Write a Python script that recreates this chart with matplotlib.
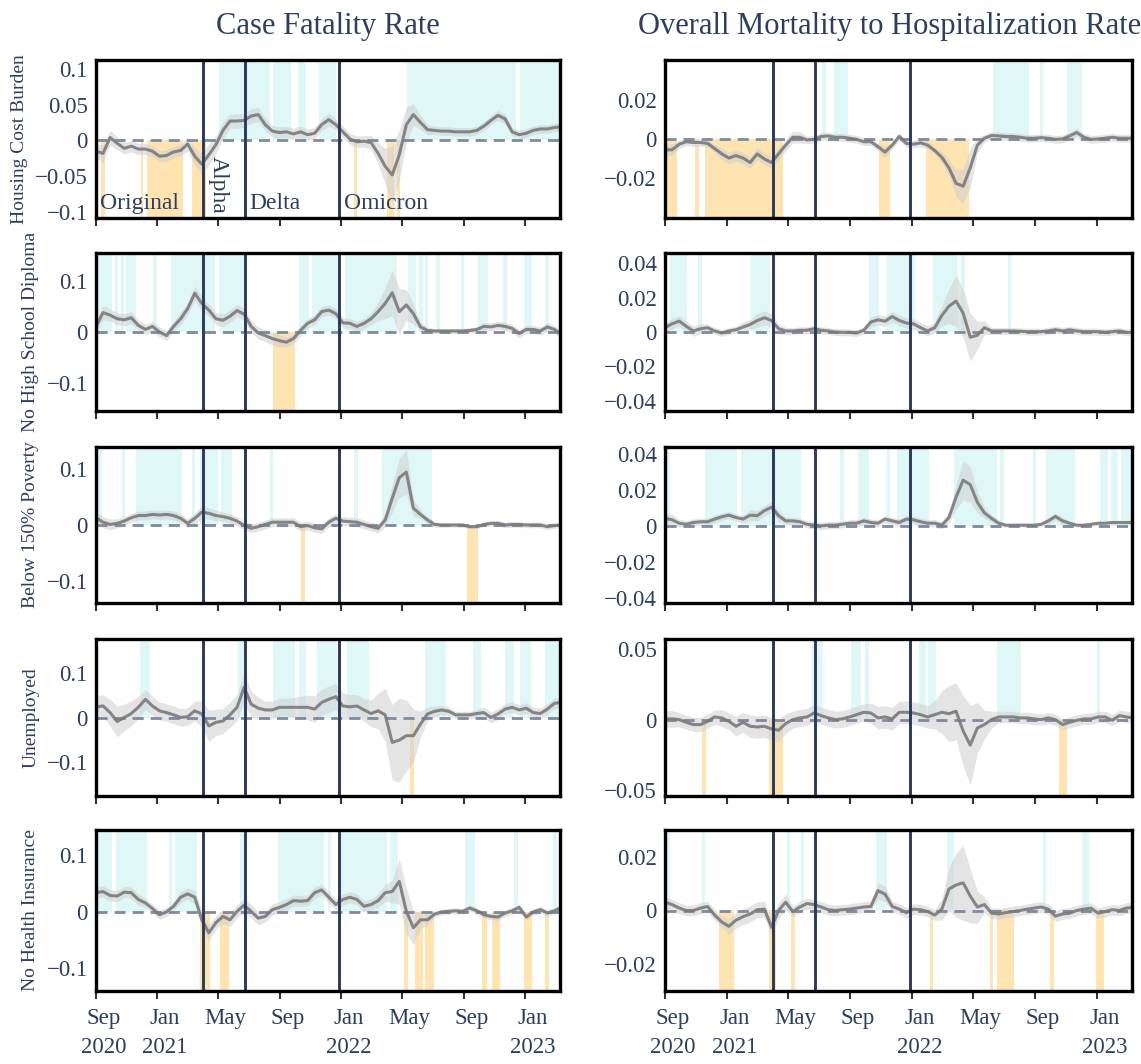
import numpy as np
import pandas as pd
import matplotlib
matplotlib.use("Agg")
import matplotlib.pyplot as plt
import matplotlib.dates as mdates
from matplotlib.ticker import FuncFormatter
from matplotlib.transforms import ScaledTranslation, blended_transform_factory

# biweekly estimates, Sep 2020 - Mar 2023
weeks = pd.date_range("2020-09-01", periods=67, freq="14D")

variant_names = ["Original", "Alpha", "Delta", "Omicron"]
variant_dates = ["2021-04-02", "2021-06-24", "2021-12-28"]

tick_dates = ["2020-09-01", "2021-01-01", "2021-05-01", "2021-09-01",
              "2022-01-01", "2022-05-01", "2022-09-01", "2023-01-01"]
tick_labels = ["Sep\n2020", "Jan\n2021", "May", "Sep", "Jan\n2022", "May", "Sep", "Jan\n2023"]

row_names = ["Housing Cost Burden", "No High School Diploma", "Below 150% Poverty",
             "Unemployed", "No Health Insurance"]
col_titles = ["Case Fatality Rate", "Overall Mortality to Hospitalization Rate"]

# ---- case fatality rate ----
hcb_cfr = [-0.015, -0.018, 0.004, -0.004, -0.011, -0.008, -0.012, -0.012, -0.015, -0.022,
           -0.021, -0.016, -0.014, -0.005, -0.022, -0.033, -0.020, -0.006, 0.014, 0.027,
           0.027, 0.028, 0.034, 0.036, 0.022, 0.013, 0.011, 0.012, 0.009, 0.012,
           0.008, 0.010, 0.022, 0.029, 0.022, 0.012, 0.002, -0.002, -0.001, -0.003,
           -0.018, -0.036, -0.048, -0.020, 0.022, 0.036, 0.025, 0.015, 0.014, 0.013,
           0.013, 0.012, 0.012, 0.012, 0.014, 0.020, 0.028, 0.035, 0.030, 0.012,
           0.008, 0.010, 0.014, 0.016, 0.016, 0.018, 0.019]
hcb_cfr_ci = [0.010, 0.012, 0.010, 0.009, 0.008, 0.008, 0.008, 0.008, 0.008, 0.008,
              0.008, 0.008, 0.008, 0.010, 0.012, 0.015, 0.015, 0.012, 0.012, 0.010,
              0.010, 0.010, 0.010, 0.010, 0.009, 0.008, 0.008, 0.008, 0.008, 0.008,
              0.008, 0.008, 0.008, 0.009, 0.008, 0.008, 0.008, 0.008, 0.008, 0.010,
              0.015, 0.025, 0.040, 0.035, 0.025, 0.015, 0.010, 0.007, 0.006, 0.006,
              0.006, 0.006, 0.006, 0.006, 0.006, 0.006, 0.006, 0.007, 0.007, 0.006,
              0.006, 0.006, 0.006, 0.006, 0.006, 0.006, 0.006]
hcb_cfr_pos = [("2021-05-03", "2021-08-13"), ("2021-08-18", "2021-09-23"), ("2021-10-07", "2021-10-22"),
               ("2021-11-18", "2021-12-22"), ("2022-05-12", "2022-12-14"), ("2022-12-21", "2023-03-12")]
hcb_cfr_neg = [("2020-09-10", "2020-09-18"), ("2020-11-29", "2020-12-04"), ("2020-12-12", "2021-02-20"),
               ("2021-03-10", "2021-04-08"), ("2022-01-26", "2022-02-02"), ("2022-04-01", "2022-04-15"),
               ("2022-04-21", "2022-04-28")]

nhs_cfr = [0.011, 0.038, 0.033, 0.026, 0.024, 0.028, 0.013, 0.005, 0.011, 0.000,
           -0.007, 0.011, 0.026, 0.046, 0.076, 0.056, 0.043, 0.026, 0.023, 0.031,
           0.042, 0.035, 0.011, -0.002, -0.007, -0.013, -0.017, -0.020, -0.013, 0.003,
           0.017, 0.024, 0.040, 0.043, 0.036, 0.018, 0.017, 0.011, 0.017, 0.026,
           0.040, 0.056, 0.077, 0.040, 0.053, 0.036, 0.010, 0.003, 0.002, 0.002,
           0.002, 0.002, 0.002, 0.003, 0.005, 0.011, 0.010, 0.013, 0.011, 0.007,
           -0.003, 0.005, 0.005, 0.002, 0.010, 0.005, -0.005]
nhs_cfr_ci = [0.012, 0.014, 0.012, 0.012, 0.012, 0.012, 0.010, 0.010, 0.010, 0.010,
              0.010, 0.010, 0.012, 0.012, 0.014, 0.014, 0.012, 0.012, 0.012, 0.012,
              0.012, 0.012, 0.012, 0.012, 0.012, 0.012, 0.012, 0.010, 0.010, 0.010,
              0.010, 0.010, 0.010, 0.010, 0.010, 0.010, 0.010, 0.010, 0.010, 0.012,
              0.018, 0.030, 0.045, 0.045, 0.030, 0.020, 0.010, 0.006, 0.005, 0.005,
              0.005, 0.005, 0.005, 0.005, 0.006, 0.008, 0.008, 0.008, 0.008, 0.008,
              0.008, 0.008, 0.008, 0.008, 0.008, 0.008, 0.008]
nhs_cfr_pos = [("2020-08-30", "2020-10-02"), ("2020-10-09", "2020-10-14"), ("2020-10-20", "2020-10-27"),
               ("2020-10-31", "2020-11-20"), ("2020-12-24", "2020-12-31"), ("2021-01-28", "2021-04-01"),
               ("2021-04-04", "2021-04-26"), ("2021-05-03", "2021-06-22"), ("2021-10-08", "2021-10-28"),
               ("2021-11-04", "2022-01-01"), ("2022-01-08", "2022-04-21"), ("2022-05-13", "2022-05-29"),
               ("2022-06-04", "2022-06-12"), ("2022-06-16", "2022-06-21"), ("2022-07-08", "2022-07-15"),
               ("2022-08-27", "2022-09-01"), ("2022-09-29", "2022-10-20"), ("2022-11-18", "2022-11-26"),
               ("2022-12-30", "2023-01-14"), ("2023-02-10", "2023-02-17")]
nhs_cfr_neg = [("2021-08-18", "2021-10-01")]

pov_cfr = [0.013, 0.005, 0.001, 0.003, 0.007, 0.013, 0.017, 0.017, 0.019, 0.018,
           0.019, 0.017, 0.012, 0.003, 0.012, 0.023, 0.021, 0.017, 0.015, 0.012,
           0.007, -0.001, -0.006, -0.003, 0.001, 0.005, 0.005, 0.005, 0.005, -0.003,
           -0.001, -0.005, -0.007, 0.005, 0.012, 0.007, 0.006, 0.005, 0.001, -0.003,
           -0.006, 0.009, 0.048, 0.085, 0.095, 0.030, 0.019, 0.009, 0.001, 0.000,
           0.000, 0.000, 0.000, -0.003, -0.003, 0.001, 0.003, 0.003, 0.000, 0.001,
           0.001, 0.000, 0.000, 0.000, -0.003, -0.001, 0.000]
pov_cfr_ci = [0.012, 0.010, 0.010, 0.008, 0.008, 0.008, 0.008, 0.008, 0.008, 0.008,
              0.008, 0.008, 0.008, 0.008, 0.010, 0.012, 0.010, 0.010, 0.008, 0.008,
              0.008, 0.008, 0.008, 0.008, 0.008, 0.008, 0.008, 0.008, 0.008, 0.008,
              0.008, 0.008, 0.008, 0.008, 0.008, 0.008, 0.008, 0.008, 0.008, 0.008,
              0.008, 0.012, 0.025, 0.035, 0.040, 0.015, 0.008, 0.006, 0.005, 0.004,
              0.004, 0.004, 0.004, 0.004, 0.004, 0.004, 0.005, 0.005, 0.005, 0.005,
              0.005, 0.005, 0.005, 0.005, 0.005, 0.005, 0.005]
pov_cfr_pos = [("2020-08-30", "2020-09-13"), ("2020-10-22", "2020-10-29"), ("2020-11-20", "2021-02-19"),
               ("2021-03-10", "2021-03-17"), ("2021-03-27", "2021-05-02"), ("2021-05-07", "2021-05-29"),
               ("2021-08-12", "2021-08-19"), ("2022-01-27", "2022-02-04"), ("2022-03-23", "2022-06-30")]
pov_cfr_neg = [("2021-10-13", "2021-10-20"), ("2022-09-08", "2022-09-30")]

unemp_cfr = [0.024, 0.026, 0.011, -0.009, 0.000, 0.009, 0.023, 0.041, 0.026, 0.015,
             0.011, 0.006, 0.000, 0.002, 0.015, 0.008, -0.019, -0.011, -0.008, 0.006,
             0.023, 0.068, 0.030, 0.021, 0.017, 0.017, 0.023, 0.023, 0.023, 0.023,
             0.023, 0.019, 0.034, 0.041, 0.047, 0.026, 0.024, 0.026, 0.017, 0.009,
             0.015, 0.006, -0.056, -0.051, -0.041, -0.041, -0.015, 0.008, 0.014, 0.017,
             0.014, 0.006, 0.006, 0.006, 0.009, 0.011, 0.000, 0.008, 0.019, 0.023,
             0.017, 0.021, 0.011, 0.009, 0.019, 0.032, 0.034]
unemp_cfr_ci = [0.025, 0.025, 0.030, 0.035, 0.030, 0.028, 0.025, 0.022, 0.022, 0.020,
                0.020, 0.020, 0.020, 0.020, 0.022, 0.030, 0.035, 0.030, 0.028, 0.028,
                0.030, 0.035, 0.030, 0.025, 0.020, 0.020, 0.020, 0.020, 0.022, 0.025,
                0.028, 0.030, 0.030, 0.030, 0.030, 0.030, 0.028, 0.025, 0.025, 0.030,
                0.040, 0.060, 0.085, 0.095, 0.080, 0.060, 0.030, 0.015, 0.012, 0.010,
                0.010, 0.008, 0.008, 0.008, 0.010, 0.012, 0.012, 0.012, 0.012, 0.012,
                0.012, 0.012, 0.012, 0.012, 0.012, 0.012, 0.012]
unemp_cfr_pos = [("2020-11-27", "2020-12-18"), ("2021-06-10", "2021-06-24"), ("2021-08-18", "2021-10-01"),
                 ("2021-10-08", "2021-10-22"), ("2021-11-13", "2021-12-24"), ("2022-01-13", "2022-02-24"),
                 ("2022-06-16", "2022-07-27"), ("2022-09-20", "2022-10-05"), ("2022-11-22", "2022-12-09"),
                 ("2022-12-21", "2023-01-12"), ("2023-02-10", "2023-03-12")]
unemp_cfr_neg = [("2022-05-18", "2022-05-25")]

noins_cfr = [0.034, 0.036, 0.029, 0.028, 0.035, 0.034, 0.022, 0.016, 0.006, -0.005,
             0.000, 0.010, 0.026, 0.032, 0.026, -0.014, -0.037, -0.019, -0.008, -0.014,
             0.001, 0.012, 0.001, -0.011, -0.008, 0.004, 0.008, 0.013, 0.020, 0.019,
             0.020, 0.034, 0.039, 0.026, 0.013, 0.022, 0.026, 0.022, 0.010, 0.013,
             0.020, 0.034, 0.036, 0.054, 0.001, -0.028, -0.014, -0.014, -0.004, 0.000,
             0.001, 0.002, 0.001, 0.007, 0.002, -0.005, -0.008, -0.009, -0.002, 0.002,
             0.008, -0.009, 0.000, 0.004, -0.002, 0.002, 0.008]
noins_cfr_ci = [0.010, 0.010, 0.010, 0.010, 0.010, 0.010, 0.010, 0.008, 0.008, 0.008,
                0.008, 0.008, 0.010, 0.010, 0.012, 0.015, 0.015, 0.012, 0.012, 0.012,
                0.012, 0.012, 0.012, 0.012, 0.010, 0.010, 0.010, 0.010, 0.010, 0.010,
                0.010, 0.010, 0.010, 0.010, 0.010, 0.010, 0.010, 0.010, 0.010, 0.010,
                0.012, 0.015, 0.020, 0.040, 0.040, 0.030, 0.015, 0.010, 0.006, 0.005,
                0.005, 0.005, 0.005, 0.005, 0.005, 0.006, 0.006, 0.006, 0.006, 0.006,
                0.006, 0.006, 0.006, 0.006, 0.006, 0.006, 0.006]
noins_cfr_pos = [("2020-08-30", "2020-10-03"), ("2020-10-10", "2020-12-12"), ("2021-01-23", "2021-01-30"),
                 ("2021-02-05", "2021-03-20"), ("2021-06-13", "2021-06-25"), ("2021-08-29", "2021-11-28"),
                 ("2021-12-05", "2021-12-12"), ("2021-12-29", "2022-04-02"), ("2022-04-08", "2022-04-24"),
                 ("2022-09-03", "2022-09-23"), ("2022-12-10", "2022-12-18"), ("2023-02-26", "2023-03-05")]
noins_cfr_neg = [("2021-03-26", "2021-04-16"), ("2021-05-06", "2021-05-23"), ("2022-05-05", "2022-05-14"),
                 ("2022-05-28", "2022-06-12"), ("2022-06-16", "2022-07-03"), ("2022-10-08", "2022-10-17"),
                 ("2022-10-27", "2022-11-12"), ("2022-12-30", "2023-01-15"), ("2023-02-09", "2023-02-18")]

# ---- mortality to hospitalization rate ----
hcb_mhr = [-0.0056, -0.0056, -0.0027, -0.0014, -0.0018, -0.0018, -0.0023, -0.0050, -0.0077, -0.0099,
           -0.0086, -0.0099, -0.0122, -0.0077, -0.0104, -0.0122, -0.0077, -0.0032, 0.0009, 0.0009,
           -0.0005, -0.0002, 0.0013, 0.0016, 0.0009, 0.0009, 0.0004, -0.0002, -0.0014, -0.0014,
           -0.0040, -0.0068, -0.0032, 0.0013, -0.0023, -0.0027, -0.0020, -0.0032, -0.0060, -0.0095,
           -0.0150, -0.0230, -0.0245, -0.0150, -0.0032, 0.0004, 0.0018, 0.0016, 0.0013, 0.0013,
           0.0009, 0.0004, 0.0004, 0.0007, 0.0004, -0.0002, 0.0000, 0.0016, 0.0034, 0.0009,
           -0.0002, 0.0000, 0.0004, 0.0009, 0.0004, 0.0004, 0.0004]
hcb_mhr_ci = [0.003, 0.003, 0.002, 0.002, 0.002, 0.002, 0.002, 0.002, 0.003, 0.003,
              0.003, 0.003, 0.003, 0.003, 0.003, 0.003, 0.003, 0.003, 0.003, 0.003,
              0.002, 0.002, 0.002, 0.002, 0.002, 0.002, 0.002, 0.002, 0.002, 0.002,
              0.002, 0.003, 0.002, 0.002, 0.002, 0.002, 0.002, 0.002, 0.002, 0.003,
              0.004, 0.007, 0.009, 0.010, 0.004, 0.002, 0.002, 0.002, 0.002, 0.002,
              0.002, 0.002, 0.002, 0.002, 0.002, 0.002, 0.002, 0.002, 0.002, 0.002,
              0.002, 0.002, 0.002, 0.002, 0.002, 0.002, 0.002]
hcb_mhr_pos = [("2021-07-08", "2021-07-15"), ("2021-07-31", "2021-08-28"), ("2022-06-10", "2022-08-20"),
               ("2022-09-10", "2022-09-17"), ("2022-11-03", "2022-12-02")]
hcb_mhr_neg = [("2020-08-30", "2020-09-24"), ("2020-10-31", "2020-11-07"), ("2020-11-19", "2021-04-22"),
               ("2021-10-29", "2021-11-19"), ("2022-01-28", "2022-04-23")]

nhs_mhr = [0.0025, 0.0048, 0.0063, 0.0033, 0.0006, 0.0019, 0.0025, 0.0006, -0.0006, 0.0006,
           0.0013, 0.0029, 0.0044, 0.0067, 0.0083, 0.0067, 0.0019, 0.0006, 0.0006, 0.0010,
           0.0010, 0.0019, 0.0010, 0.0006, 0.0000, -0.0002, -0.0002, -0.0006, 0.0010, 0.0058,
           0.0071, 0.0063, 0.0090, 0.0067, 0.0052, 0.0048, 0.0025, 0.0006, 0.0025, 0.0096,
           0.0150, 0.0180, 0.0110, -0.0030, -0.0019, 0.0025, 0.0006, 0.0006, 0.0006, 0.0006,
           0.0004, 0.0002, 0.0002, 0.0002, 0.0006, 0.0013, 0.0006, 0.0013, 0.0006, 0.0002,
           0.0002, 0.0002, -0.0002, 0.0002, 0.0006, -0.0002, -0.0002]
nhs_mhr_ci = [0.003, 0.003, 0.003, 0.003, 0.003, 0.003, 0.002, 0.002, 0.002, 0.002,
              0.002, 0.003, 0.003, 0.004, 0.004, 0.004, 0.003, 0.002, 0.002, 0.002,
              0.002, 0.002, 0.002, 0.002, 0.002, 0.002, 0.002, 0.002, 0.002, 0.003,
              0.003, 0.003, 0.003, 0.003, 0.003, 0.003, 0.003, 0.003, 0.003, 0.006,
              0.010, 0.015, 0.014, 0.014, 0.008, 0.004, 0.002, 0.002, 0.002, 0.002,
              0.002, 0.002, 0.002, 0.002, 0.002, 0.002, 0.002, 0.002, 0.002, 0.002,
              0.002, 0.002, 0.002, 0.002, 0.002, 0.002, 0.002]
nhs_mhr_pos = [("2020-09-10", "2020-10-15"), ("2020-11-05", "2020-11-12"), ("2021-02-18", "2021-03-28"),
               ("2021-10-08", "2021-10-29"), ("2021-11-12", "2022-01-07"), ("2022-02-11", "2022-04-02"),
               ("2022-04-08", "2022-04-15"), ("2022-07-09", "2022-07-16")]
nhs_mhr_neg = []

pov_mhr = [0.0042, 0.0034, 0.0015, 0.0009, 0.0019, 0.0023, 0.0023, 0.0038, 0.0051, 0.0060,
           0.0047, 0.0038, 0.0060, 0.0057, 0.0085, 0.0104, 0.0057, 0.0028, 0.0028, 0.0023,
           0.0009, 0.0004, 0.0000, 0.0004, 0.0004, 0.0009, 0.0015, 0.0015, 0.0028, 0.0019,
           0.0015, 0.0038, 0.0028, 0.0019, 0.0038, 0.0034, 0.0023, 0.0015, 0.0015, 0.0004,
           0.0047, 0.0160, 0.0255, 0.0230, 0.0132, 0.0072, 0.0042, 0.0015, 0.0004, 0.0004,
           0.0004, 0.0004, 0.0004, 0.0009, 0.0028, 0.0053, 0.0028, 0.0015, 0.0004, 0.0004,
           0.0009, 0.0015, 0.0015, 0.0019, 0.0019, 0.0019, 0.0019]
pov_mhr_ci = [0.003, 0.003, 0.002, 0.002, 0.002, 0.002, 0.002, 0.002, 0.002, 0.002,
              0.002, 0.002, 0.003, 0.003, 0.003, 0.003, 0.003, 0.002, 0.002, 0.002,
              0.002, 0.002, 0.002, 0.002, 0.002, 0.002, 0.002, 0.002, 0.002, 0.002,
              0.002, 0.002, 0.002, 0.002, 0.002, 0.002, 0.002, 0.002, 0.002, 0.002,
              0.003, 0.007, 0.011, 0.010, 0.006, 0.003, 0.002, 0.002, 0.001, 0.001,
              0.001, 0.001, 0.001, 0.001, 0.002, 0.002, 0.002, 0.001, 0.001, 0.001,
              0.001, 0.001, 0.001, 0.001, 0.001, 0.001, 0.001]
pov_mhr_pos = [("2020-08-30", "2020-09-11"), ("2020-11-19", "2021-01-21"), ("2021-01-28", "2021-05-27"),
               ("2021-08-13", "2021-08-20"), ("2021-09-16", "2021-10-08"), ("2021-11-12", "2021-11-19"),
               ("2021-12-03", "2022-02-04"), ("2022-03-25", "2022-06-18"), ("2022-06-24", "2022-07-01"),
               ("2022-08-27", "2022-09-03"), ("2022-09-23", "2022-11-18"), ("2023-01-06", "2023-01-23"),
               ("2023-01-28", "2023-02-11"), ("2023-02-17", "2023-03-12")]
pov_mhr_neg = []

unemp_mhr = [0.0005, 0.0005, 0.0000, -0.0019, -0.0035, -0.0035, -0.0012, 0.0019, 0.0012, -0.0012,
             -0.0047, -0.0019, -0.0047, -0.0052, -0.0047, -0.0066, -0.0075, -0.0028, 0.0000, 0.0012,
             0.0019, 0.0047, 0.0028, 0.0012, 0.0000, 0.0005, 0.0019, 0.0035, 0.0052, 0.0047,
             0.0012, 0.0019, 0.0005, 0.0052, 0.0052, 0.0047, 0.0035, 0.0019, 0.0035, 0.0052,
             0.0042, 0.0059, -0.0080, -0.0180, -0.0059, -0.0035, 0.0000, 0.0019, 0.0019, 0.0019,
             0.0012, 0.0012, 0.0005, 0.0000, 0.0012, 0.0000, -0.0035, -0.0019, -0.0005, 0.0005,
             0.0005, 0.0019, 0.0019, -0.0005, 0.0028, 0.0019, 0.0012]
unemp_mhr_ci = [0.006, 0.006, 0.005, 0.005, 0.005, 0.005, 0.005, 0.005, 0.006, 0.006,
                0.007, 0.007, 0.008, 0.008, 0.008, 0.008, 0.008, 0.007, 0.006, 0.006,
                0.006, 0.006, 0.006, 0.006, 0.006, 0.006, 0.006, 0.006, 0.006, 0.007,
                0.008, 0.008, 0.008, 0.008, 0.008, 0.008, 0.008, 0.008, 0.010, 0.015,
                0.020, 0.020, 0.025, 0.028, 0.018, 0.010, 0.006, 0.004, 0.004, 0.004,
                0.004, 0.004, 0.004, 0.004, 0.004, 0.004, 0.004, 0.004, 0.004, 0.004,
                0.004, 0.004, 0.004, 0.004, 0.004, 0.004, 0.004]
unemp_mhr_pos = [("2021-06-17", "2021-07-10"), ("2021-09-02", "2021-09-23"), ("2021-10-01", "2021-10-08"),
                 ("2022-01-14", "2022-01-29"), ("2022-02-01", "2022-02-17"), ("2022-06-17", "2022-08-05"),
                 ("2022-12-31", "2023-01-07")]
unemp_mhr_neg = [("2020-11-12", "2020-11-21"), ("2021-03-25", "2021-04-03"), ("2021-04-06", "2021-04-22"),
                 ("2022-10-18", "2022-11-03")]

noins_mhr = [0.0031, 0.0022, 0.0009, 0.0000, 0.0000, 0.0009, 0.0015, -0.0017, -0.0043, -0.0059,
             -0.0036, -0.0023, -0.0013, 0.0003, 0.0005, -0.0062, 0.0000, 0.0031, -0.0004, 0.0013,
             0.0026, 0.0022, 0.0013, 0.0003, 0.0000, 0.0003, 0.0005, 0.0009, 0.0013, 0.0015,
             0.0074, 0.0061, 0.0015, 0.0005, -0.0008, 0.0005, 0.0003, -0.0004, -0.0017, 0.0005,
             0.0080, 0.0095, 0.0103, 0.0054, 0.0013, 0.0022, -0.0010, -0.0013, -0.0008, -0.0004,
             0.0000, 0.0005, 0.0009, 0.0013, 0.0005, -0.0021, -0.0013, -0.0010, 0.0000, 0.0005,
             0.0009, -0.0010, -0.0004, 0.0003, 0.0000, 0.0009, 0.0012]
noins_mhr_ci = [0.002, 0.002, 0.002, 0.002, 0.002, 0.002, 0.002, 0.002, 0.002, 0.003,
                0.003, 0.003, 0.003, 0.003, 0.003, 0.003, 0.003, 0.003, 0.002, 0.002,
                0.002, 0.002, 0.002, 0.002, 0.002, 0.002, 0.002, 0.002, 0.002, 0.002,
                0.003, 0.003, 0.002, 0.002, 0.002, 0.002, 0.002, 0.002, 0.002, 0.004,
                0.008, 0.012, 0.014, 0.010, 0.006, 0.003, 0.002, 0.002, 0.002, 0.002,
                0.002, 0.002, 0.002, 0.002, 0.002, 0.002, 0.002, 0.002, 0.002, 0.002,
                0.002, 0.002, 0.002, 0.002, 0.002, 0.002, 0.002]
noins_mhr_pos = [("2020-09-03", "2020-09-11"), ("2020-11-12", "2020-11-19"), ("2021-04-29", "2021-05-06"),
                 ("2021-05-27", "2021-06-03"), ("2021-10-22", "2021-11-12"), ("2022-03-11", "2022-03-25"),
                 ("2022-09-16", "2022-09-23"), ("2022-12-03", "2022-12-17")]
noins_mhr_neg = [("2020-12-17", "2021-01-16"), ("2021-03-25", "2021-04-08"), ("2021-05-08", "2021-05-16"),
                 ("2022-02-05", "2022-02-12"), ("2022-06-03", "2022-06-10"), ("2022-06-17", "2022-07-22"),
                 ("2022-09-30", "2022-10-08"), ("2022-12-30", "2023-01-14")]

cfr_panels = [(hcb_cfr, hcb_cfr_ci, hcb_cfr_pos, hcb_cfr_neg),
              (nhs_cfr, nhs_cfr_ci, nhs_cfr_pos, nhs_cfr_neg),
              (pov_cfr, pov_cfr_ci, pov_cfr_pos, pov_cfr_neg),
              (unemp_cfr, unemp_cfr_ci, unemp_cfr_pos, unemp_cfr_neg),
              (noins_cfr, noins_cfr_ci, noins_cfr_pos, noins_cfr_neg)]
mhr_panels = [(hcb_mhr, hcb_mhr_ci, hcb_mhr_pos, hcb_mhr_neg),
              (nhs_mhr, nhs_mhr_ci, nhs_mhr_pos, nhs_mhr_neg),
              (pov_mhr, pov_mhr_ci, pov_mhr_pos, pov_mhr_neg),
              (unemp_mhr, unemp_mhr_ci, unemp_mhr_pos, unemp_mhr_neg),
              (noins_mhr, noins_mhr_ci, noins_mhr_pos, noins_mhr_neg)]

# axis settings
cfr_ylims = [(-0.108, 0.112), (-0.155, 0.155), (-0.14, 0.14), (-0.177, 0.177), (-0.14, 0.145)]
cfr_yticks = [[-0.1, -0.05, 0, 0.05, 0.1], [-0.1, 0, 0.1], [-0.1, 0, 0.1], [-0.1, 0, 0.1], [-0.1, 0, 0.1]]
mhr_ylims = [(-0.041, 0.041), (-0.046, 0.046), (-0.043, 0.044), (-0.054, 0.057), (-0.030, 0.030)]
mhr_yticks = [[-0.02, 0, 0.02], [-0.04, -0.02, 0, 0.02, 0.04], [-0.04, -0.02, 0, 0.02, 0.04],
              [-0.05, 0, 0.05], [-0.02, 0, 0.02]]

plt.rcParams['font.family'] = ['Liberation Serif', 'DejaVu Serif']

TXT = '#2d3e5e'
VLINE = '#2b3a5a'
CYAN = '#e0f7f7'
ORANGE = '#ffe4b2'
XMIN = pd.Timestamp("2020-09-01")
XMAX = pd.Timestamp("2023-03-11")

W, H = 1141, 1064
fig = plt.figure(figsize=(W / 100, H / 100), dpi=100)

col_px = [(96, 560), (665, 1132)]
row_px = [(60, 218), (253, 411), (447, 603), (639, 796), (830, 991)]


def fmt(v, pos):
    if abs(v) < 1e-12:
        return "0"
    return f"{v:g}".replace("-", "\u2212")


def draw_panel(ax, vals, ci, pos, neg, ylim, yticks):
    vals = np.array(vals)
    ci = np.array(ci)
    lo, hi = ylim
    for s, e in pos:
        ax.fill_between(pd.to_datetime([s, e]), 0, hi, color=CYAN, lw=0, zorder=0)
    for s, e in neg:
        ax.fill_between(pd.to_datetime([s, e]), lo, 0, color=ORANGE, lw=0, zorder=0)
    ax.fill_between(weeks, vals - ci, vals + ci, color='#cfcfcf', alpha=0.55, lw=0, zorder=1)
    ax.axhline(0, color='#7d8aa0', lw=2.0, ls=(0, (4, 2.5)), zorder=2)
    ax.plot(weeks, vals, color='#7a7a7a', lw=2.2, alpha=0.9, zorder=3)
    for d in variant_dates:
        ax.axvline(pd.Timestamp(d), color=VLINE, lw=2.1, zorder=4)
    ax.set_xlim(XMIN, XMAX)
    ax.set_ylim(lo, hi)
    ax.set_yticks(yticks)
    ax.yaxis.set_major_formatter(FuncFormatter(fmt))
    ax.tick_params(axis='y', length=0, pad=6, labelsize=16.5, labelcolor=TXT)
    ax.tick_params(axis='x', direction='out', length=6, width=1.5, color='#333333',
                   pad=6.5, labelsize=16.5, labelcolor=TXT)
    for sp in ax.spines.values():
        sp.set_linewidth(2.4)
        sp.set_color('black')
        sp.set_zorder(5)


for c, (panels, ylims, yticks) in enumerate([(cfr_panels, cfr_ylims, cfr_yticks),
                                             (mhr_panels, mhr_ylims, mhr_yticks)]):
    x0, x1 = col_px[c]
    for r in range(5):
        y0, y1 = row_px[r]
        ax = fig.add_axes([x0 / W, 1 - y1 / H, (x1 - x0) / W, (y1 - y0) / H])
        vals, ci, pos, neg = panels[r]
        draw_panel(ax, vals, ci, pos, neg, ylims[r], yticks[r])
        if r == 4:
            ax.set_xticks(pd.to_datetime(tick_dates), tick_labels)
            shift = ScaledTranslation(7.5 / 100, 0, fig.dpi_scale_trans)
            for lbl in ax.get_xticklabels():
                lbl.set_linespacing(1.45)
                lbl.set_transform(lbl.get_transform() + shift)
        else:
            ax.set_xticks(pd.to_datetime(tick_dates), [""] * len(tick_dates))
        if c == 0:
            ax.set_ylabel(row_names[r], fontsize=14, color=TXT, labelpad=5)
        if r == 0:
            ax.set_title(col_titles[c], fontsize=22, color=TXT, pad=19, x=0.5 if c == 0 else 0.48)
        if c == 0 and r == 0:
            tr = blended_transform_factory(ax.transData, ax.transAxes)
            starts = [XMIN] + [pd.Timestamp(d) for d in variant_dates]
            for name, d in zip(variant_names, starts):
                rot = 270 if name == "Alpha" else 0
                ax.annotate(name, xy=(mdates.date2num(d), 0), xycoords=tr, xytext=(3, 3),
                            textcoords='offset points', ha='left', va='bottom', rotation=rot,
                            fontsize=17, color=TXT, zorder=6)

fig.savefig("out.png", dpi=100)
